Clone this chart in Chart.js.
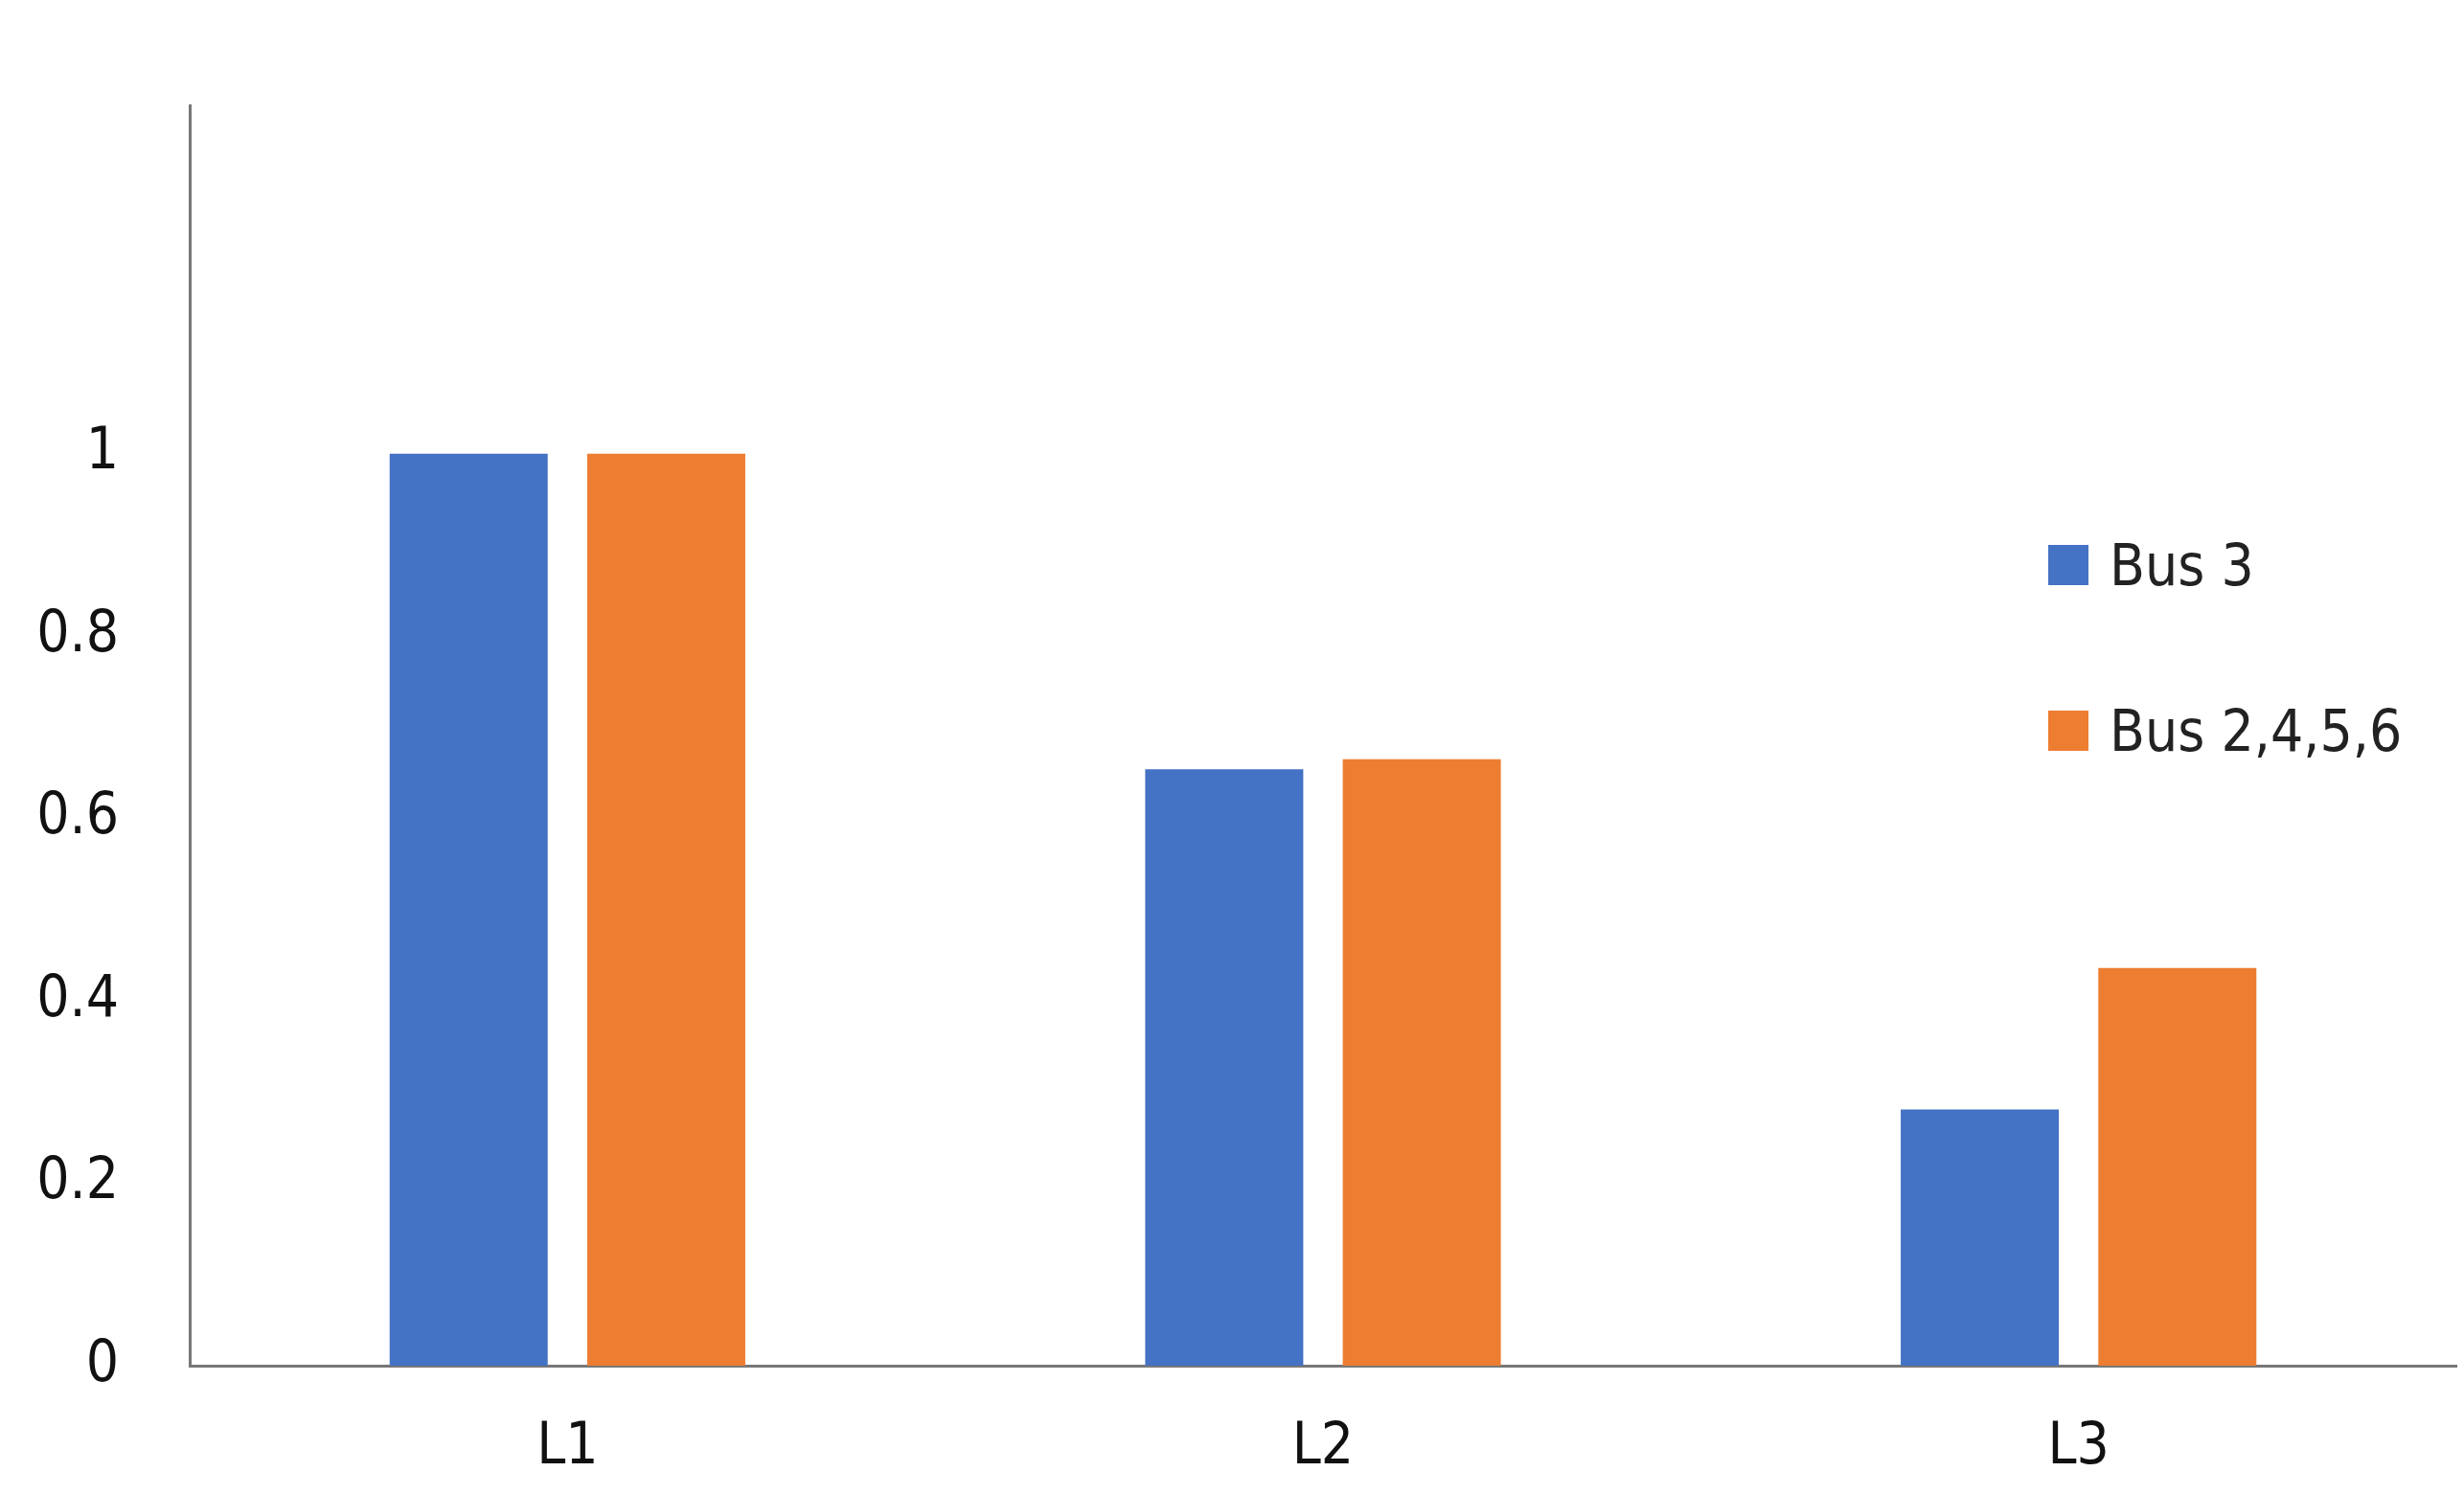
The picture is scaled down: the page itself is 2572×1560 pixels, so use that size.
<!DOCTYPE html>
<html>
<head>
<meta charset="utf-8">
<script src="https://cdn.jsdelivr.net/npm/chart.js@4"></script>
<style>
  html, body { margin: 0; padding: 0; background: #fff; }
  #wrap { position: relative; width: 2572px; height: 1560px; }
  .leg { position: absolute; left: 2138px; display: flex; align-items: center; font-family: 'Liberation Sans Narrow', 'DejaVu Sans Condensed', sans-serif; font-size: 60px; color: #222; }
  .leg span.box { width: 42px; height: 42px; margin-right: 22px; display: inline-block; }
</style>
</head>
<body>
<div id="wrap">
  <canvas id="c" width="2572" height="1560"></canvas>
  <div class="leg" style="top:555px"><span class="box" style="background:#4472c4"></span>Bus 3</div>
  <div class="leg" style="top:728px"><span class="box" style="background:#ed7d31"></span>Bus 2,4,5,6</div>
</div>
<script>
// Data
const categories = ['L1', 'L2', 'L3'];
const bus3 = [1.0, 0.654, 0.281];
const bus2456 = [1.0, 0.665, 0.436];
const yTicks = [0, 0.2, 0.4, 0.6, 0.8, 1];

const font = { family: "'Liberation Sans Narrow', 'DejaVu Sans Condensed', sans-serif", size: 60 };

new Chart(document.getElementById('c').getContext('2d'), {
    type: 'bar',
    data: {
        labels: categories,
        datasets: [
            { label: 'Bus 3', data: bus3, backgroundColor: '#4472c4' },
            { label: 'Bus 2,4,5,6', data: bus2456, backgroundColor: '#ed7d31' }
        ]
    },
    options: {
        responsive: false,
        animation: false,
        layout: { padding: { top: -60, right: 8, left: 0, bottom: 0 } },
        datasets: { bar: { categoryPercentage: 0.523, barPercentage: 0.8 } },
        plugins: { legend: { display: false }, tooltip: { enabled: false } },
        scales: {
            x: {
                grid: { display: false, drawTicks: false },
                border: { color: '#777', width: 3 },
                ticks: { font, color: '#111', padding: 50 },
                afterFit: s => { s.height = 134; }
            },
            y: {
                min: 0, max: 1.382,
                grid: { display: false, drawTicks: false },
                border: { color: '#777', width: 3 },
                afterBuildTicks: s => { s.ticks = yTicks.map(v => ({ value: v })); },
                ticks: { font, color: '#111', padding: 74, callback: v => String(v) },
                afterFit: s => { s.width = 198; }
            }
        }
    }
});
</script>
</body>
</html>
